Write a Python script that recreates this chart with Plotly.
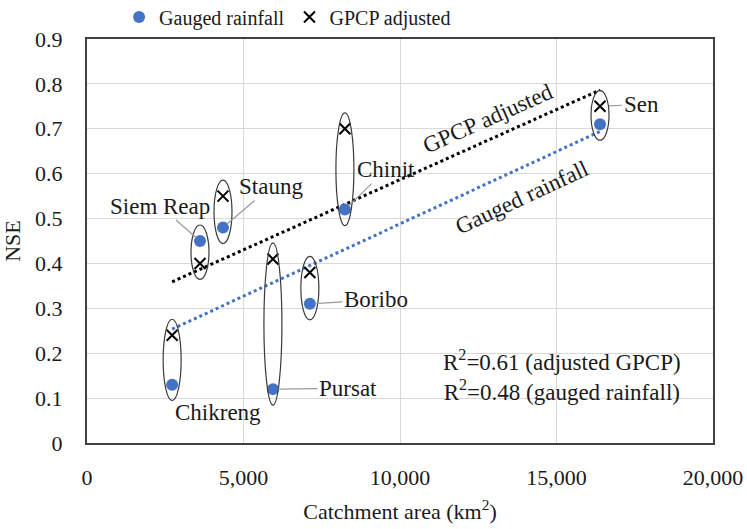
import numpy as np
import plotly.graph_objects as go

# ---- data ----
catchments = ["Siem Reap", "Staung", "Chinit", "Pursat", "Boribo", "Chikreng", "Sen"]
area_km2 = [3610, 4345, 8240, 5940, 7120, 2720, 16390]
nse_gauged = [0.45, 0.48, 0.52, 0.12, 0.31, 0.13, 0.71]
nse_gpcp = [0.40, 0.55, 0.70, 0.41, 0.38, 0.24, 0.75]

x_ticks = [0, 5000, 10000, 15000, 20000]
y_ticks = [0, 0.1, 0.2, 0.3, 0.4, 0.5, 0.6, 0.7, 0.8, 0.9]

# label offsets (pixels) relative to the point: (ax, ay, with_leader, anchor series)
label_offsets = {
    "Siem Reap": (-40, -35, True, "g"),
    "Staung": (48, -41, True, "g"),
    "Chinit": (41, -40, True, "g"),
    "Pursat": (75, -1, True, "g"),
    "Boribo": (66, -4, True, "g"),
    "Chikreng": (46, -28, False, "g"),
    "Sen": (41, -2, True, "p"),
}

FONT = "Liberation Serif, Times New Roman, serif"
BLUE = "#4472C4"
TXT = "#1a1a1a"
FS = 23

x = np.array(area_km2, dtype=float)
yg = np.array(nse_gauged)
yp = np.array(nse_gpcp)

fig = go.Figure()

# trend lines (least-squares fits)
xs = np.array([x.min(), x.max()])
pg = np.polyfit(x, yg, 1)
pp = np.polyfit(x, yp, 1)
fig.add_trace(go.Scatter(x=xs, y=np.polyval(pp, xs), mode="lines",
                         line=dict(color="black", width=3, dash="dot"),
                         showlegend=False, hoverinfo="skip"))
fig.add_trace(go.Scatter(x=xs, y=np.polyval(pg, xs), mode="lines",
                         line=dict(color=BLUE, width=3, dash="dot"),
                         showlegend=False, hoverinfo="skip"))

fig.add_trace(go.Scatter(x=x, y=yg, mode="markers", name="Gauged rainfall",
                         marker=dict(color=BLUE, size=12, symbol="circle")))
fig.add_trace(go.Scatter(x=x, y=yp, mode="markers", name="GPCP adjusted",
                         marker=dict(color="black", size=11, symbol="x-thin",
                                     line=dict(color="black", width=2))))

# ellipses around each pair (computed from data)
px_per_x = 626 / 20000.0
px_per_y = 404 / 0.9
half_w = 9 / px_per_x
pad = 16 / px_per_y
for xi, a, b in zip(x, yg, yp):
    fig.add_shape(type="circle", xref="x", yref="y",
                  x0=xi - half_w, x1=xi + half_w,
                  y0=min(a, b) - pad, y1=max(a, b) + pad,
                  line=dict(color="#3a3a3a", width=1.2), layer="above")

# catchment labels
for name, xi, a, b in zip(catchments, x, yg, yp):
    ax, ay, leader, which = label_offsets[name]
    yy = a if which == "g" else b
    if leader:
        fig.add_annotation(x=xi, y=yy, text=name, showarrow=True, arrowhead=0,
                           arrowwidth=1.2, arrowcolor="#9a9a9a", ax=ax, ay=ay,
                           standoff=9 if name == "Sen" else 5,
                           font=dict(family=FONT, size=FS, color=TXT))
    else:
        fig.add_annotation(x=xi, y=yy, text=name, showarrow=False,
                           xshift=ax, yshift=ay,
                           font=dict(family=FONT, size=FS, color=TXT))

# trend line labels
xl_p = 12810
fig.add_annotation(x=xl_p, y=np.polyval(pp, xl_p), yshift=22, text="GPCP adjusted",
                   showarrow=False, textangle=-24,
                   font=dict(family=FONT, size=FS, color=TXT))
xl_g = 13900
fig.add_annotation(x=xl_g, y=np.polyval(pg, xl_g), yshift=-30, text="Gauged rainfall",
                   showarrow=False, textangle=-25,
                   font=dict(family=FONT, size=FS, color=TXT))

# R² text
fig.add_annotation(xref="paper", yref="paper", x=0.952, y=0.09, xanchor="right",
                   yanchor="bottom", align="center", showarrow=False,
                   text="R<sup>2</sup>=0.61 (adjusted GPCP)<br>R<sup>2</sup>=0.48 (gauged rainfall)",
                   font=dict(family=FONT, size=FS, color=TXT))

fig.update_layout(
    width=747, height=529,
    margin=dict(l=87, r=34, t=39, b=86, autoexpand=False),
    paper_bgcolor="white", plot_bgcolor="white",
    font=dict(family=FONT, size=22, color=TXT),
    legend=dict(orientation="h", xref="container", yref="container",
                x=0.385, xanchor="center", y=0.968, yanchor="middle",
                font=dict(family=FONT, size=20, color=TXT), itemwidth=30,
                bgcolor="rgba(0,0,0,0)"),
    xaxis=dict(range=[0, 20000], tickvals=x_ticks, tickformat=",", showgrid=True,
               gridcolor="#d9d9d9", gridwidth=1, zeroline=False, showline=True,
               linecolor="#404040", linewidth=2, mirror=True, ticks="",
               automargin=False,
               ticklabelstandoff=14, tickfont=dict(family=FONT, size=22, color=TXT),
               title=dict(text="Catchment area (km<sup>2</sup>)", standoff=14,
                          font=dict(family=FONT, size=22, color=TXT))),
    yaxis=dict(range=[0, 0.9], tickvals=y_ticks, showgrid=True,
               gridcolor="#d9d9d9", gridwidth=1, zeroline=False, showline=True,
               linecolor="#404040", linewidth=2, mirror=True, ticks="",
               automargin=False,
               ticklabelstandoff=18, tickfont=dict(family=FONT, size=22, color=TXT),
               title=dict(text="NSE", standoff=8,
                          font=dict(family=FONT, size=22, color=TXT))),
)

fig.write_html("out.html")
